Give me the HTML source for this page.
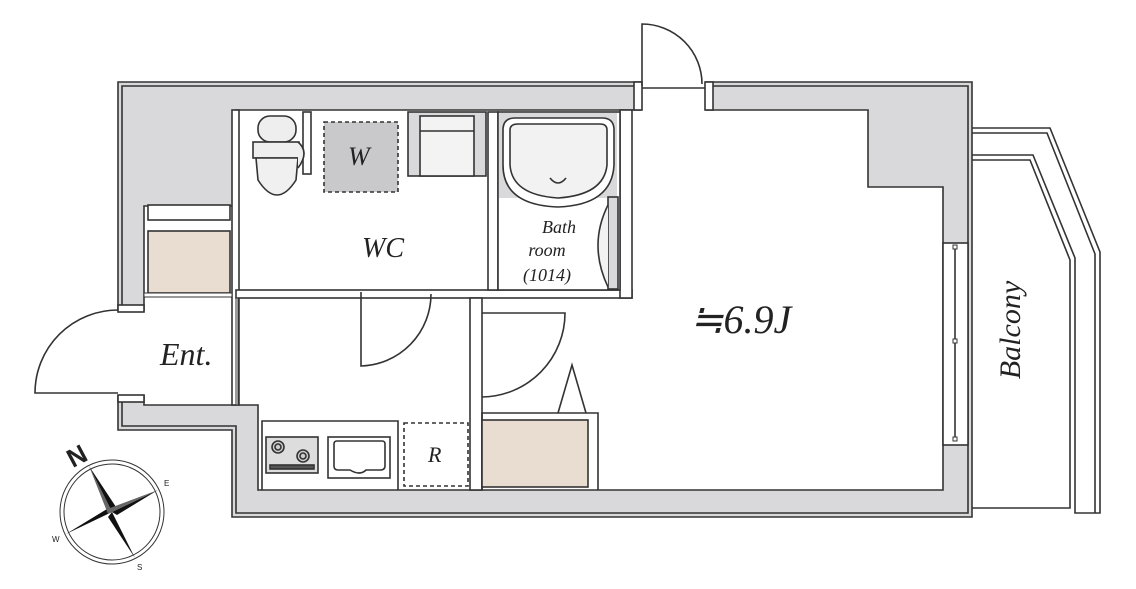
<!DOCTYPE html>
<html><head><meta charset="utf-8"><style>
html,body{margin:0;padding:0;background:#fff;width:1136px;height:589px;overflow:hidden}
svg{display:block}
text{font-family:"Liberation Serif",serif;font-style:italic;fill:#222}
</style></head><body>
<svg width="1136" height="589" viewBox="0 0 1136 589" xmlns="http://www.w3.org/2000/svg">
<g stroke="#333" stroke-width="1.6" fill="none">
<!-- outer gray wall -->
<polygon points="118,82 972,82 972,517 232,517 232,430 118,430" fill="#d9d9db"/>
<polyline points="122,310 122,86 968,86 968,513 236,513 236,426 122,426 122,395"/>
<!-- interior white -->
<polygon points="144,206 236,206 236,110 868,110 868,187 943,187 943,490 258,490 258,405 144,405" fill="#fff"/>
<!-- entry opening -->
<rect x="116" y="311" width="30" height="84" fill="#fff" stroke="none"/>
<rect x="118" y="305" width="26" height="7" fill="#fff"/>
<rect x="118" y="395" width="26" height="7" fill="#fff"/>
<!-- top door opening -->
<rect x="641" y="80" width="65" height="32" fill="#fff" stroke="none"/>
<rect x="634" y="82" width="8" height="28" fill="#fff"/>
<rect x="705" y="82" width="8" height="28" fill="#fff"/>
<line x1="642" y1="88" x2="705" y2="88"/>
<path d="M642,86 L642,24 A60,60 0 0 1 702,84"/>
<!-- balcony -->
<polyline points="972,128 1050,128 1100,252 1100,513 1075,513 1075,258 1033,155 972,155"/>
<polyline points="972,133 1047,133 1095,254 1095,513"/>
<polyline points="972,160 1030,160 1070,260 1070,508 972,508"/>
<!-- window -->
<rect x="943" y="243" width="25" height="202" fill="#fff"/>
<line x1="955" y1="247" x2="955" y2="441"/>
<rect x="953" y="245" width="4" height="4" fill="#fff" stroke-width="1"/>
<rect x="953" y="339" width="4" height="4" fill="#fff" stroke-width="1"/>
<rect x="953" y="437" width="4" height="4" fill="#fff" stroke-width="1"/>
<!-- interior walls -->
<rect x="232" y="110" width="7" height="295" fill="#fff"/>
<rect x="236" y="290" width="396" height="8" fill="#fff"/>
<rect x="620" y="110" width="12" height="188" fill="#fff"/>
<rect x="488" y="112" width="10" height="178" fill="#fff"/>
<rect x="470" y="298" width="12" height="192" fill="#fff"/>
<rect x="236" y="298" width="2" height="107" fill="#fff" stroke-width="1"/>
<!-- storage -->
<rect x="148" y="205" width="82" height="15" fill="#fff"/>
<rect x="148" y="231" width="82" height="62" fill="#e8ddd0"/>
<rect x="144" y="293" width="88" height="4" fill="#fff" stroke-width="1"/>
<!-- door arcs -->
<path d="M118,393 L35,393 A83,83 0 0 1 118,310"/>
<path d="M361,292 L361,366 A72,72 0 0 0 431,294"/>
<path d="M482,313 L565,313 A84,84 0 0 1 482,397"/>
<!-- toilet -->
<rect x="303" y="112" width="8" height="62" fill="#fff"/>
<rect x="258" y="116" width="38" height="26" rx="12" fill="#eee"/>
<rect x="253" y="142" width="46" height="16" fill="#eee"/>
<path d="M256,158 L298,158 L296,180 Q277,210 258,180 Z" fill="#f0f0f0"/>
<path d="M298,142 Q310,152 298,168" fill="#eee"/>
<!-- washer -->
<rect x="324" y="122" width="74" height="70" fill="#c9c9cb" stroke-dasharray="4,3"/>
<!-- sink cabinet -->
<rect x="408" y="112" width="78" height="64" fill="#d9d9db"/>
<rect x="420" y="116" width="54" height="60" fill="#f3f3f3"/>
<line x1="420" y1="131" x2="474" y2="131"/>
<!-- bath -->
<rect x="498" y="112" width="122" height="178" fill="#fff"/>
<rect x="499" y="113" width="118" height="85" fill="#d9d9db" stroke="none"/>
<path d="M503,130 Q503,118 515,118 L602,118 Q614,118 614,130 L614,165 Q612,205 558,207 Q503,205 503,165 Z" fill="#fff"/>
<path d="M510,130 Q510,124 518,124 L600,124 Q607,124 607,130 L607,165 Q604,195 558,198 Q512,195 510,165 Z" fill="#f2f2f2"/>
<path d="M550,178 Q558,188 566,178"/>
<rect x="608" y="197" width="10" height="92" fill="#d9d9db"/>
<path d="M608,205 Q588,245 608,287" fill="#f2f2f2"/>
<!-- kitchen -->
<polyline points="262,490 262,421 398,421 398,490"/>
<rect x="266" y="437" width="52" height="36" fill="#ddd"/>
<circle cx="278" cy="447" r="6" fill="#ccc"/><circle cx="278" cy="447" r="3"/>
<circle cx="303" cy="456" r="6" fill="#ccc"/><circle cx="303" cy="456" r="3"/>
<rect x="270" y="465" width="44" height="4" fill="#555"/>
<rect x="328" y="437" width="62" height="41" fill="#fff"/>
<path d="M334,444 Q334,441 337,441 L382,441 Q385,441 385,444 L385,466 Q385,470 380,470 L366,470 Q360,476 350,470 L338,470 Q334,470 334,466 Z"/>
<rect x="404" y="423" width="64" height="63" stroke-dasharray="4,3"/>
<!-- closet -->
<polyline points="482,490 482,413 598,413 598,490"/>
<rect x="482" y="420" width="106" height="67" fill="#e8ddd0"/>
<polyline points="558,413 572,365 586,413"/>
<!-- compass -->
<circle cx="112" cy="512" r="52" stroke-width="1"/>
<circle cx="112" cy="512" r="48" stroke-width="1"/>
</g>
<g fill="#111">
<polygon points="89,466 116,507 112,512"/>
<polygon points="135,558 108,517 112,512"/>
<polygon points="158,490 117,515 112,512" />
<polygon points="66,534 107,509 112,512"/>
<polygon points="89,466 108,514 112,512" fill="#666"/>
<polygon points="158,490 110,508 112,512" fill="#666"/>
</g>
<text x="66" y="463" font-size="26" style="font-style:normal;font-family:'Liberation Sans',sans-serif;font-weight:bold" transform="rotate(-28 80 452)">N</text>
<text x="164" y="486" font-size="8" style="font-style:normal;font-family:'Liberation Sans',sans-serif">E</text>
<text x="52" y="542" font-size="8" style="font-style:normal;font-family:'Liberation Sans',sans-serif">W</text>
<text x="137" y="570" font-size="8" style="font-style:normal;font-family:'Liberation Sans',sans-serif">S</text>
<!-- labels -->
<text x="348" y="165" font-size="26">W</text>
<text x="362" y="257" font-size="28">WC</text>
<text x="559" y="233" font-size="18" text-anchor="middle">Bath</text>
<text x="547" y="256" font-size="18" text-anchor="middle">room</text>
<text x="547" y="281" font-size="18" text-anchor="middle">(1014)</text>
<text x="160" y="365" font-size="32">Ent.</text>
<text x="428" y="462" font-size="22">R</text>
<text x="690" y="333" font-size="40">≒6.9J</text>
<text x="1030" y="340" font-size="30" text-anchor="middle" transform="rotate(-90 1020 340)">Balcony</text>
</svg>
</body></html>
